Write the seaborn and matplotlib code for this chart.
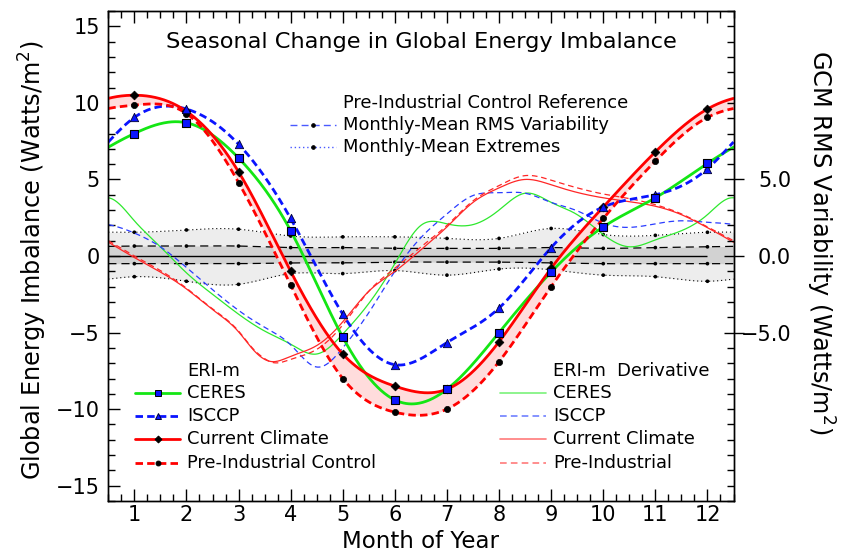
import numpy as np
import pandas as pd
import matplotlib
matplotlib.use("Agg")
import matplotlib.pyplot as plt
from matplotlib.lines import Line2D
from matplotlib.ticker import MultipleLocator, FixedLocator
import seaborn as sns

# ---------------- data ----------------
months = [1, 2, 3, 4, 5, 6, 7, 8, 9, 10, 11, 12]
month_labels = ["1", "2", "3", "4", "5", "6", "7", "8", "9", "10", "11", "12"]

ceres = [8.0, 8.7, 6.4, 1.65, -5.3, -9.4, -8.7, -5.0, -1.05, 1.9, 3.8, 6.05]
isccp = [9.05, 9.6, 7.3, 2.45, -3.8, -7.1, -5.65, -3.4, 0.55, 3.2, 4.0, 5.7]
current = [10.5, 9.45, 5.5, -1.0, -6.4, -8.5, -8.7, -5.6, -0.8, 3.2, 6.8, 9.6]
preind = [9.85, 9.3, 4.8, -1.9, -8.0, -10.2, -10.0, -6.9, -2.0, 2.45, 6.2, 9.05]

rms_upper = [0.65, 0.65, 0.65, 0.55, 0.55, 0.5, 0.5, 0.5, 0.55, 0.5, 0.55, 0.6]
rms_lower = [-0.5, -0.5, -0.5, -0.45, -0.45, -0.4, -0.4, -0.4, -0.45, -0.5, -0.5, -0.5]
ext_upper = [1.55, 1.7, 1.75, 1.3, 1.25, 1.25, 1.15, 1.15, 1.8, 1.4, 1.35, 1.55]
ext_lower = [-1.35, -1.65, -1.85, -1.15, -1.15, -0.95, -1.25, -0.85, -0.9, -1.25, -1.35, -1.65]

deriv_months = [0.5, 1.0, 1.5, 2.0, 2.5, 3.0, 3.5, 4.0, 4.5, 5.0, 5.5, 6.0,
                6.5, 7.0, 7.5, 8.0, 8.5, 9.0, 9.5, 10.0, 10.5, 11.0, 11.5, 12.0]
ceres_deriv = [3.8, 2.3, 0.6, -1.1, -2.5, -3.8, -4.9, -5.76, -6.4, -5.1, -3.1, -0.5,
               2.0, 2.1, 2.05, 3.0, 4.1, 3.5, 2.7, 1.4, 0.6, 1.05, 1.65, 2.7]
isccp_deriv = [2.05, 1.5, 0.6, -0.75, -2.2, -3.55, -4.65, -5.8, -7.25, -6.0, -3.7, -1.0,
               1.2, 2.75, 3.95, 4.13, 4.1, 3.5, 2.95, 2.15, 1.87, 2.1, 2.3, 2.2]

climate_deriv_months = [0.5, 1.0, 1.5, 2.0, 2.5, 3.0, 3.25, 3.5, 3.65, 4.0, 4.5, 5.0, 5.5,
                        6.0, 6.5, 7.0, 7.5, 8.0, 8.5, 9.0, 9.5, 10.0, 10.5, 11.0, 11.5, 12.0]
current_deriv = [0.9, -0.1, -1.05, -2.15, -3.5, -4.95, -6.0, -6.75, -6.9, -6.55, -5.85, -4.3, -2.3,
                 -1.0, 0.4, 1.9, 3.5, 4.45, 5.0, 4.65, 4.15, 3.8, 3.55, 3.25, 2.7, 1.85]
preind_deriv = [1.0, 0.0, -0.95, -2.1, -3.45, -4.9, -5.95, -6.7, -6.95, -6.75, -6.1, -4.5, -2.3,
                -0.8, 0.6, 2.0, 3.6, 4.6, 5.25, 4.95, 4.45, 4.05, 3.75, 3.35, 2.75, 1.9]


# ---------------- smooth periodic curve through the read values ----------------
def periodic_spline(xk, yk, xs, period=12.0):
    xk = np.asarray(xk, float)
    yk = np.asarray(yk, float)
    n = len(xk)
    xe = np.append(xk, xk[0] + period)
    h = np.diff(xe)
    A = np.zeros((n, n))
    b = np.zeros(n)
    for i in range(n):
        hp, hi = h[i - 1], h[i]
        A[i, (i - 1) % n] += hp
        A[i, i] += 2 * (hp + hi)
        A[i, (i + 1) % n] += hi
        b[i] = 6 * ((yk[(i + 1) % n] - yk[i]) / hi - (yk[i] - yk[i - 1]) / hp)
    M = np.linalg.solve(A, b)
    t = (np.asarray(xs) - xk[0]) % period + xk[0]
    idx = np.clip(np.searchsorted(xe, t, side="right") - 1, 0, n - 1)
    x0, x1 = xe[idx], xe[idx + 1]
    hh = x1 - x0
    y0, y1 = yk[idx], yk[(idx + 1) % n]
    M0, M1 = M[idx], M[(idx + 1) % n]
    a = (x1 - t) / hh
    bb = (t - x0) / hh
    return a * y0 + bb * y1 + ((a ** 3 - a) * M0 + (bb ** 3 - bb) * M1) * hh ** 2 / 6


xs = np.linspace(0.5, 12.5, 721)


def curve(xk, yk):
    return pd.DataFrame({"month": xs, "value": periodic_spline(xk, yk, xs)})


# ---------------- style ----------------
sns.set_style("ticks")
plt.rcParams["font.family"] = ["DejaVu Sans"]
plt.rcParams["mathtext.fontset"] = "dejavusans"
for k in ["axes.edgecolor", "xtick.color", "ytick.color", "text.color", "axes.labelcolor"]:
    plt.rcParams[k] = "black"

W, H = 850, 552
fig = plt.figure(figsize=(W / 100, H / 100), dpi=100)
ax = fig.add_axes([108.3 / W, 1 - 501 / H, 625.2 / W, 490 / H])

# reference bands
eu, el = curve(months, ext_upper), curve(months, ext_lower)
ru, rl = curve(months, rms_upper), curve(months, rms_lower)
ax.fill_between(xs, el["value"], eu["value"], color="#ededed", lw=0, zorder=0.2)
ax.fill_between(xs, rl["value"], ru["value"], color="#d2d2d2", lw=0, zorder=0.3)
for df in (eu, el):
    sns.lineplot(data=df, x="month", y="value", ax=ax, color="black", lw=0.8,
                 linestyle=(0, (1, 2.6)), errorbar=None, zorder=0.6)
for df in (ru, rl):
    sns.lineplot(data=df, x="month", y="value", ax=ax, color="black", lw=0.9,
                 linestyle=(0, (6.5, 4)), errorbar=None, zorder=0.6)
for vals in (ext_upper, ext_lower, rms_upper, rms_lower):
    sns.scatterplot(x=months, y=vals, ax=ax, color="black", s=7, edgecolor="none",
                    zorder=0.7, legend=False)
ax.hlines(0, 0.5, 12, color="black", lw=1.0, zorder=0.65)

# pink band between the two climate runs
cur_c, pre_c = curve(months, current), curve(months, preind)
ax.fill_between(xs, pre_c["value"], cur_c["value"], color="#ffdcdc", lw=0, zorder=1)

# thin derivative curves
sns.lineplot(data=curve(deriv_months, ceres_deriv), x="month", y="value", ax=ax,
             color="#2ee82e", lw=0.9, errorbar=None, zorder=2)
sns.lineplot(data=curve(deriv_months, isccp_deriv), x="month", y="value", ax=ax,
             color="#2a3cff", lw=0.9, linestyle=(0, (4.5, 3)), errorbar=None, zorder=2)
sns.lineplot(data=curve(climate_deriv_months, current_deriv), x="month", y="value", ax=ax,
             color="#ff2626", lw=0.9, errorbar=None, zorder=2)
sns.lineplot(data=curve(climate_deriv_months, preind_deriv), x="month", y="value", ax=ax,
             color="#ff2626", lw=0.9, linestyle=(0, (4.5, 3)), errorbar=None, zorder=2)

# thick ERI-m curves
sns.lineplot(data=curve(months, ceres), x="month", y="value", ax=ax,
             color="#14e614", lw=2.0, errorbar=None, zorder=3)
sns.lineplot(data=curve(months, isccp), x="month", y="value", ax=ax,
             color="#0a14ff", lw=2.0, linestyle=(0, (2.7, 1.5)), errorbar=None, zorder=3)
sns.lineplot(data=cur_c, x="month", y="value", ax=ax,
             color="#ff0000", lw=2.0, errorbar=None, zorder=3.2)
sns.lineplot(data=pre_c, x="month", y="value", ax=ax,
             color="#ff0000", lw=2.0, linestyle=(0, (2.7, 1.5)), errorbar=None, zorder=3.1)

sns.scatterplot(x=months, y=preind, ax=ax, marker="o", s=20, color="black",
                edgecolor="black", linewidth=0.5, zorder=4, legend=False)
sns.scatterplot(x=months, y=current, ax=ax, marker="D", s=20, color="black",
                edgecolor="black", linewidth=0.5, zorder=4, legend=False)
sns.scatterplot(x=months, y=isccp, ax=ax, marker="^", s=36, color="#0a14ff",
                edgecolor="#000033", linewidth=0.6, zorder=4.1, legend=False)
sns.scatterplot(x=months, y=ceres, ax=ax, marker="s", s=26, color="#0a14ff",
                edgecolor="black", linewidth=0.8, zorder=4.2, legend=False)

# ---------------- axes ----------------
ax.set_xlim(0.5, 12.5)
ax.set_ylim(-16, 16)
ax.xaxis.set_major_locator(FixedLocator(months))
ax.set_xticklabels(month_labels)
ax.xaxis.set_minor_locator(MultipleLocator(0.25))
ax.yaxis.set_major_locator(MultipleLocator(5))
ax.yaxis.set_minor_locator(MultipleLocator(1))
ax.tick_params(axis="x", which="both", direction="in", top=True, bottom=True,
               labelsize=15, pad=3)
ax.tick_params(axis="y", which="both", direction="in", left=True, right=False,
               labelsize=15, pad=6)
ax.tick_params(which="major", length=8.8, width=1)
ax.tick_params(which="minor", length=4.8, width=1)
for s in ax.spines.values():
    s.set_linewidth(1.0)
    s.set_color("black")

ax.set_xlabel("Month of Year", fontsize=16.5)
ax.xaxis.set_label_coords(0.5, (501 - 541) / 490)
ax.xaxis.label.set_va("center")
ax.set_ylabel("Global Energy Imbalance (Watts/m$^2$)", fontsize=17.3)
ax.yaxis.set_label_coords((33 - 108.3) / 625.2, (501 - 260) / 490)
ax.yaxis.label.set_va("center")

ax2 = ax.twinx()
ax2.set_ylim(-16, 16)
ax2.yaxis.set_major_locator(FixedLocator([-5, 0, 5]))
ax2.set_yticklabels(["\u22125.0", "0.0", "5.0"])
ax2.yaxis.set_minor_locator(MultipleLocator(1))
ax2.tick_params(axis="y", which="major", direction="inout", length=15, width=1,
                labelsize=15, pad=34, left=False, right=True)
ax2.tick_params(axis="y", which="minor", direction="in", length=4.8, width=1,
                left=False, right=True)
for lab in ax2.get_yticklabels():
    lab.set_horizontalalignment("right")
ax2.set_ylabel("GCM RMS Variability (Watts/m$^2$)", fontsize=17.3, rotation=270)
ax2.yaxis.set_label_coords((820 - 108.3) / 625.2, (501 - 242) / 490)
ax2.yaxis.label.set_va("center")
for s in ax2.spines.values():
    s.set_linewidth(1.0)
    s.set_color("black")

# ---------------- title and legends ----------------
def fx(x):
    return x / W


def fy(y):
    return 1 - y / H


fig.text(fx(421), fy(48), "Seasonal Change in Global Energy Imbalance",
         ha="center", va="baseline", fontsize=16.2)

LEG_FS = 12.9


def leg_entry(x1, x2, y, text, color, lw, ls, marker=None, ms=None, mfc=None, mec=None):
    fig.add_artist(Line2D([fx(x1), fx(x2)], [fy(y), fy(y)], transform=fig.transFigure,
                          color=color, lw=lw, linestyle=ls))
    if marker is not None:
        fig.add_artist(Line2D([fx((x1 + x2) / 2)], [fy(y)], transform=fig.transFigure,
                              marker=marker, ms=ms, mfc=mfc, mec=mec, mew=0.7,
                              linestyle="none"))
    fig.text(fx(x2 + 7), fy(y), text, ha="left", va="center", fontsize=LEG_FS)


# top legend
fig.text(fx(343), fy(102.5), "Pre-Industrial Control Reference", ha="left",
         va="center", fontsize=LEG_FS)
leg_entry(290, 336, 124.5, "Monthly-Mean RMS Variability", "#4a5aff", 1.0,
          (0, (5, 3)), "o", 2.6, "black", "black")
leg_entry(290, 336, 147, "Monthly-Mean Extremes", "#4a5aff", 1.0,
          (0, (1, 2)), "o", 2.6, "black", "black")

# ERI-m legend
fig.text(fx(187), fy(371), "ERI-m", ha="left", va="center", fontsize=LEG_FS)
leg_entry(135, 180, 393, "CERES", "#14e614", 2.0, "-", "s", 4.5, "#0a14ff", "black")
leg_entry(135, 180, 416, "ISCCP", "#0a14ff", 2.0, (0, (2.7, 1.5)), "^", 5, "#0a14ff", "#000033")
leg_entry(135, 180, 439, "Current Climate", "#ff0000", 2.0, "-", "D", 3.5, "black", "black")
leg_entry(135, 180, 462.5, "Pre-Industrial Control", "#ff0000", 2.0, (0, (2.7, 1.5)),
          "o", 3.5, "black", "black")

# ERI-m Derivative legend
fig.text(fx(553), fy(371), "ERI-m  Derivative", ha="left", va="center", fontsize=LEG_FS)
leg_entry(500, 546, 393, "CERES", "#7af27a", 1.2, "-")
leg_entry(500, 546, 416, "ISCCP", "#7080ff", 1.2, (0, (4, 2.5)))
leg_entry(500, 546, 439, "Current Climate", "#ff7a7a", 1.2, "-")
leg_entry(500, 546, 462.5, "Pre-Industrial", "#ff7a7a", 1.2, (0, (4, 2.5)))

fig.savefig("out.png", dpi=100)
